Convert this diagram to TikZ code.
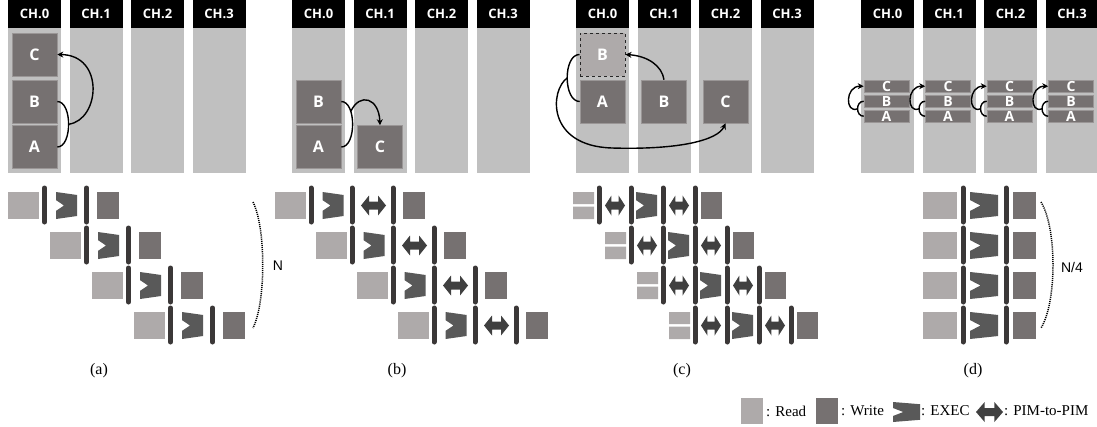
\documentclass[tikz,border=0pt]{standalone}
\usepackage{fontspec}
\setmainfont{Liberation Serif}
\setsansfont{Open Sans}
\newfontfamily\labelsans{Liberation Sans}
\usetikzlibrary{arrows.meta}

\definecolor{colgray}{HTML}{C0C0C0}
\definecolor{readc}{HTML}{AEAAAA}
\definecolor{writec}{HTML}{767171}
\definecolor{execc}{HTML}{595959}
\definecolor{ptopc}{HTML}{404040}
\definecolor{barc}{HTML}{3B3838}
\definecolor{edgec}{HTML}{9A9696}

% pipeline glyphs (x, y are picture units, y grows downwards)
\newcommand\readbox[3]{\fill[readc] (#1,#2) rectangle ++(#3,27);}
\newcommand\splitread[3]{\fill[readc] (#1,#2) rectangle ++(#3,12) (#1,#2+14.5) rectangle ++(#3,12.5);}
\newcommand\writebox[3]{\fill[writec] (#1,#2) rectangle ++(#3,27);}
% EXEC: left x, top y, width, height
\newcommand\execglyph[4]{\fill[execc] (#1,#2) -- ++(#3,#4*0.11) -- ++(0,#4*0.78) -- ++(-#3,#4*0.11)
  -- ++(0,-#4*0.3) -- ++(#3*0.38,-#4*0.2) -- ++(-#3*0.38,-#4*0.2) -- cycle;}
% PIM-to-PIM: left x, middle y, width, half height
\newcommand\ptopglyph[4]{\fill[ptopc] (#1,#2) -- ++(#3*0.32,-#4) -- ++(0,#4*0.6) -- ++(#3*0.36,0)
  -- ++(0,-#4*0.6) -- ++(#3*0.32,#4) -- ++(-#3*0.32,#4) -- ++(0,-#4*0.6) -- ++(-#3*0.36,0)
  -- ++(0,#4*0.6) -- cycle;}
% synchronisation bar: x, row top y
\newcommand\syncbar[2]{\draw[barc,line width=5pt,line cap=round] (#1,#2-4) -- (#1,#2+30);}

\begin{document}
\begin{tikzpicture}[x=1pt,y=-1pt,
  hdr/.style={fill=black,text=white,minimum width=53pt,minimum height=28pt,inner sep=0pt,
    font=\sffamily\bfseries\fontsize{13}{13}\selectfont},
  blk/.style={rectangle,fill=writec,draw=edgec,line width=0.6pt,minimum width=45pt,
    minimum height=43pt,inner sep=0pt,text=white,font=\sffamily\bfseries\fontsize{16}{16}\selectfont},
  dblk/.style={blk,fill=readc,draw=black!85,dashed,line width=1pt},
  tbar/.style={blk,minimum height=12.5pt,font=\sffamily\bfseries\fontsize{14}{14}\selectfont},
  link/.style={draw=black,line width=1.4pt},
  tip/.style={-{Stealth[length=6pt,width=6pt]}},
  brace/.style={draw=black,line width=1.5pt,dash pattern=on 1.1pt off 1pt},
  subcap/.style={font=\fontsize{16}{16}\selectfont},
  legtxt/.style={anchor=west,inner sep=0pt,font=\fontsize{15}{15}\selectfont}]
\useasboundingbox (0,0) rectangle (1097,426);

% channel columns and headers
\foreach \X/\p in {8/a,292/b,576/c,861/d}{
  \foreach \k in {0,...,3}{
    \pgfmathsetmacro\cl{\X+61.5*\k}
    \fill[colgray] (\cl,28) rectangle ++(53,145);
    \node[hdr] (h\p\k) at (\cl+26.5,14) {CH.\k};
  }
}

% (a) all operands in CH.0
\node[blk] (aC) at (34.5,54.5) {C};
\node[blk] (aB) at (34.5,101.5) {B};
\node[blk] (aA) at (34.5,147) {A};
\draw[link] (aB.east) to[out=0,in=0,looseness=0.85] coordinate[pos=.5] (aM) (aA.east);
\draw[link,tip] (aM) .. controls (100,120) and (105,55) .. (aC.east);

% (b) result written to CH.1
\node[blk] (bB) at (318.5,101.5) {B};
\node[blk] (bA) at (318.5,147) {A};
\node[blk] (bC) at (380,147) {C};
\draw[link] (bB.east) to[out=0,in=0,looseness=0.85] coordinate[pos=.3] (bM) (bA.east);
\draw[link,tip] (bM) .. controls (360,92) and (379,98) .. (bC.north);

% (c) operand fetched from CH.1, result to CH.2
\node[dblk] (cBd) at (602.5,54.5) {B};
\node[blk] (cA) at (602.5,101.5) {A};
\node[blk] (cB) at (664,101.5) {B};
\node[blk] (cC) at (725.5,101.5) {C};
\draw[link,tip] (cB.north) .. controls (662,66) and (648,56) .. (cBd.east);
\draw[link] (cBd.west) to[out=180,in=180,looseness=0.9] coordinate[pos=.5] (cM) (cA.west);
\coordinate (cLow) at (612,148);
\draw[link] (cM) .. controls (550,90) and (546,146) .. (cLow);
\draw[link,tip] (cLow) .. controls (680,150) and (718,140) .. (cC.south);

% (d) operands split over all channels
\foreach \k in {0,...,3}{
  \pgfmathsetmacro\cc{861+61.5*\k+25.5}
  \pgfmathsetmacro\lx{\cc-22.5}
  \node[tbar] (dC\k) at (\cc,86.25) {C};
  \node[tbar] (dB\k) at (\cc,101.25) {B};
  \node[tbar] (dA\k) at (\cc,116.25) {A};
  \draw[link] (dB\k.west) to[out=180,in=180,looseness=1.4] coordinate[pos=.5] (dM\k) (dA\k.west);
  \draw[link,tip] (dM\k) .. controls (\lx-19,114) and (\lx-19,86) .. (dC\k.west);
}

% pipeline (a)
\foreach \i in {0,...,3}{
  \pgfmathsetmacro\bx{44.5+42*\i}
  \pgfmathsetmacro\yy{192+40*\i}
  \readbox{\bx-36.5}{\yy}{31}
  \syncbar{\bx}{\yy}
  \execglyph{\bx+11.5}{\yy}{21}{27}
  \syncbar{\bx+42}{\yy}
  \writebox{\bx+52.5}{\yy}{22}
}
\coordinate (aNt) at (253,202);
\coordinate (aNb) at (253,328);
\draw[brace] (aNt) .. controls (266,228) and (266,302) .. (aNb);
\node[font=\labelsans\fontsize{14}{14}\selectfont] (aN) at (278,266) {N};

% pipeline (b)
\foreach \i in {0,...,3}{
  \pgfmathsetmacro\bx{311+41*\i}
  \pgfmathsetmacro\yy{192+40*\i}
  \readbox{\bx-36}{\yy}{31}
  \syncbar{\bx}{\yy}
  \execglyph{\bx+11.5}{\yy}{21}{27}
  \syncbar{\bx+41}{\yy}
  \ptopglyph{\bx+50}{\yy+13.5}{25}{10}
  \syncbar{\bx+82}{\yy}
  \writebox{\bx+92}{\yy}{22}
}

% pipeline (c)
\foreach \i in {0,...,3}{
  \pgfmathsetmacro\bx{599+32*\i}
  \pgfmathsetmacro\yy{192+40*\i}
  \splitread{\bx-26}{\yy}{21}
  \syncbar{\bx}{\yy}
  \ptopglyph{\bx+6}{\yy+13.5}{20}{10}
  \syncbar{\bx+32}{\yy}
  \execglyph{\bx+37}{\yy}{21}{27}
  \syncbar{\bx+64}{\yy}
  \ptopglyph{\bx+70}{\yy+13.5}{20}{10}
  \syncbar{\bx+96}{\yy}
  \writebox{\bx+102}{\yy}{21}
}

% pipeline (d)
\foreach \i in {0,...,3}{
  \pgfmathsetmacro\yy{192+40*\i}
  \readbox{923}{\yy}{34}
  \syncbar{963}{\yy}
  \execglyph{970}{\yy}{28}{27}
  \syncbar{1006}{\yy}
  \writebox{1013}{\yy}{23}
}
\coordinate (dNt) at (1041,202);
\coordinate (dNb) at (1041,328);
\draw[brace] (dNt) .. controls (1057,228) and (1057,302) .. (dNb);
\node[font=\labelsans\fontsize{14}{14}\selectfont] (dN) at (1072,267) {N/4};

% sub-figure captions
\node[subcap] (capA) at (99,371) {(a)};
\node[subcap] (capB) at (397,371) {(b)};
\node[subcap] (capC) at (682,371) {(c)};
\node[subcap] (capD) at (973,371) {(d)};

% legend
\fill[readc] (741,398) rectangle (763,424);
\node[legtxt] (legR) at (766,411) {: Read};
\fill[writec] (816,398) rectangle (838,424);
\node[legtxt] (legW) at (841,411) {: Write};
\execglyph{893}{402}{27}{20}
\node[legtxt] (legE) at (921,411) {: EXEC};
\ptopglyph{976}{412}{27}{10}
\node[legtxt] (legP) at (1004,411) {: PIM-to-PIM};
\end{tikzpicture}
\end{document}
